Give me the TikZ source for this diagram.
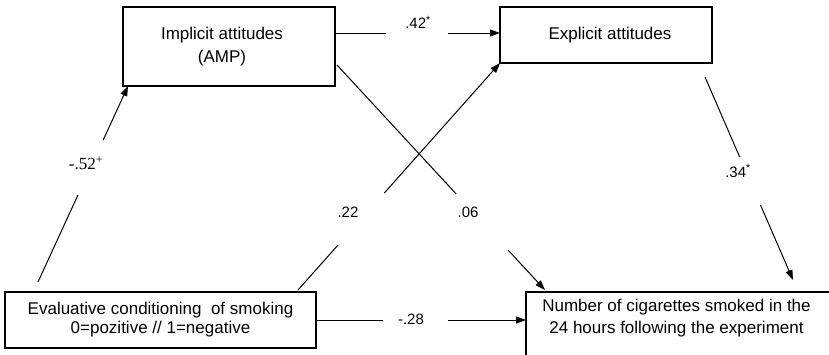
\documentclass[tikz,border=0pt]{standalone}
\usepackage{fontspec}
\setmainfont{Liberation Sans}
\newfontfamily\serifnum{Liberation Serif}
\usetikzlibrary{arrows.meta,calc}
\begin{document}
\begin{tikzpicture}[x=1pt,y=-1pt,
  box/.style={draw, line width=1.1pt, inner sep=0pt, outer sep=0pt, align=center, font=\fontsize{17}{23}\selectfont},
  lbl/.style={inner sep=0pt, font=\fontsize{15}{17}\selectfont},
  seg/.style={line width=1pt},
  arr/.style={line width=1pt, -{Triangle[length=10pt,width=7pt]}}]
\clip (0,0) rectangle (829,354);
\useasboundingbox (0,0) rectangle (829,354);
\fill[white] (0,0) rectangle (829,354);
% boxes
\node[box, minimum width=212, minimum height=79] (imp) at (229,46.5) {\hspace*{-14pt}Implicit attitudes\\\hspace*{-14pt}(AMP)};
\node[box, minimum width=212, minimum height=56] (exp) at (606,35) {\raisebox{4pt}{\hspace*{8pt}Explicit attitudes}};
\node[box, minimum width=311, minimum height=56, font=\fontsize{17}{20}\selectfont] (eval) at (160.5,320) {\raisebox{3pt}{\shortstack{Evaluative conditioning\ \ of smoking\\0=pozitive // 1=negative}}};
\node[box, minimum width=305, minimum height=80, anchor=north west] (num) at (526,292) {};
\node[align=center, inner sep=0pt, anchor=north, font=\fontsize{17}{22}\selectfont] (numtext) at ($(num.north)+(-2,7)$) {Number of cigarettes smoked in the\\24 hours following the experiment};
% end points
\coordinate (a1) at ($(imp.north east)+(0,26)$);
\coordinate (b1) at ($(exp.west)+(0,-2)$);
\coordinate (a2) at ($(eval.north west)+(33,-10)$);
\coordinate (b2) at ($(imp.south west)+(5,0)$);
\coordinate (a3) at ($(eval.north east)+(-18,-2)$);
\coordinate (b3) at (exp.south west);
\coordinate (a4) at ($(imp.south east)+(2,-21)$);
\coordinate (b4) at ($(num.north west)+(19,-2)$);
\coordinate (a5) at ($(exp.south east)+(-7,14)$);
\coordinate (b5) at ($(num.north east)+(-38,-12)$);
\coordinate (a6) at (eval.east);
\coordinate (b6) at ($(num.north west)+(0,28)$);
% connectors with gaps
\draw[seg] (a1) -- ($(a1)!0.309!(b1)$);
\draw[arr] ($(a1)!0.685!(b1)$) -- (b1);
\draw[seg] (a2) -- ($(a2)!0.444!(b2)$);
\draw[arr] ($(a2)!0.724!(b2)$) -- (b2);
\draw[seg] (a3) -- ($(a3)!0.198!(b3)$);
\draw[arr] ($(a3)!0.427!(b3)$) -- (b3);
\draw[seg] (a4) -- ($(a4)!0.573!(b4)$);
\draw[arr] ($(a4)!0.822!(b4)$) -- (b4);
\draw[seg] (a5) -- ($(a5)!0.394!(b5)$);
\draw[arr] ($(a5)!0.631!(b5)$) -- (b5);
\draw[seg] (a6) -- ($(a6)!0.319!(b6)$);
\draw[arr] ($(a6)!0.629!(b6)$) -- (b6);
% labels
\node[lbl] (l42) at (418,22) {.42\textsuperscript{*}};
\node[lbl, font=\serifnum\fontsize{17}{19}\selectfont] (l52) at (86,163) {-.52\textsuperscript{+}};
\node[lbl] (l22) at (348,212) {.22};
\node[lbl] (l06) at (468,212) {.06};
\node[lbl] (l34) at (738,171) {.34\textsuperscript{*}};
\node[lbl] (l28) at (411,319) {-.28};
\end{tikzpicture}
\end{document}
